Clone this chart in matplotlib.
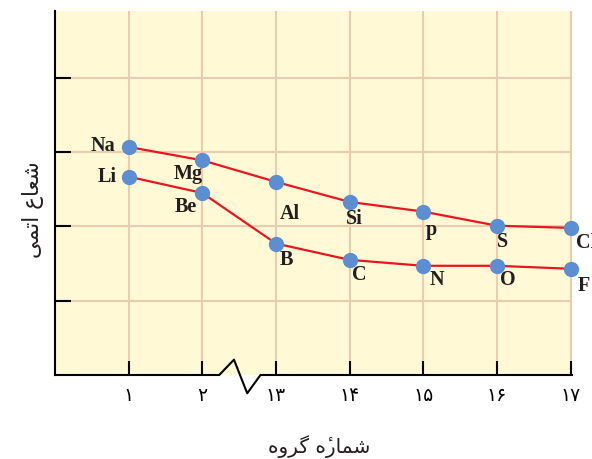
import matplotlib
matplotlib.use("Agg")

import matplotlib.pyplot as plt


# Data (relative atomic radius; grid units)
groups = ["۱", "۲", "۱۳", "۱۴", "۱۵", "۱۶", "۱۷"]

period3_symbols = ["Na", "Mg", "Al", "Si", "p", "S", "Cl"]
period3_radius = [3.07, 2.89, 2.60, 2.33, 2.20, 2.01, 1.98]

period2_symbols = ["Li", "Be", "B", "C", "N", "O", "F"]
period2_radius = [2.67, 2.45, 1.77, 1.55, 1.47, 1.47, 1.43]

# Persian labels, in visual order with joined letter forms
ylabel_text = "\uFEF0\uFEE4\uFE97\uFE8D \uFEC9\uFE8E\uFECC\uFEB7"            # شعاع اتمی
xlabel_text = "\uFEE9\uFEED\uFEAE\uFB94 \uFEE9\u0654\uFEAD\uFE8E\uFEE4\uFEB7"  # شمارهٔ گروه


# label offsets in pixels (dx, dy, ha)
offsets = {
    "Na": (-13, 2, "right"), "Li": (-12, 1, "right"),
    "Mg": (-14, -13, "center"), "Be": (-16, -13, "center"),
    "Al": (14, -31, "center"), "B": (10, -15, "center"),
    "Si": (5, -16, "center"), "p": (8, -17, "center"),
    "S": (6, -15, "center"), "Cl": (5, -14, "left"),
    "C": (10, -14, "center"), "N": (14, -13, "center"),
    "O": (11, -13, "center"), "F": (13, -16, "center"),
}

bg = "#FFF9D6"
grid_col = "#E8CDB0"
red = "#E8161E"
blue = "#5B8FD1"

fig = plt.figure(figsize=(5.92, 4.60), dpi=100)
ax = fig.add_axes([55 / 592, 84 / 460, 517 / 592, 364 / 460])
ax.set_facecolor(bg)

x = list(range(1, len(groups) + 1))

for symbols, radius in [(period3_symbols, period3_radius),
                        (period2_symbols, period2_radius)]:
    ax.plot(x, radius, color=red, lw=1.6, zorder=3, clip_on=False)
    ax.plot(x, radius, "o", color=blue, ms=10, zorder=4, clip_on=False)
    for xi, yi, s in zip(x, radius, symbols):
        dx, dy, ha = offsets[s]
        ax.annotate(s, (xi, yi), xytext=(dx, dy), textcoords="offset pixels",
                    ha=ha, va="center", fontsize=14.5, fontweight="bold",
                    family="Liberation Serif", color="#231F20",
                    annotation_clip=False, zorder=5)

ax.set_xlim(0, 7.02)
ax.set_ylim(0, 4.90)

ax.set_xticks(x)
ax.set_xticklabels(groups, family="DejaVu Sans", fontsize=13.5)
ax.set_yticks([1, 2, 3, 4])
ax.set_yticklabels([])

ax.tick_params(axis="x", direction="in", length=10, width=1.5, pad=7, colors="black")
ax.tick_params(axis="y", direction="in", length=11.5, width=1.5)

ax.grid(True, color=grid_col, lw=1.5)
ax.set_axisbelow(True)

for side in ["top", "right", "bottom"]:
    ax.spines[side].set_visible(False)
ax.spines["left"].set_linewidth(1.5)

# bottom axis with a break between groups 2 and 13
ax.plot([0, 2.23, 2.43, 2.61, 2.79, 7.02], [0, 0, 0.206, -0.246, 0, 0],
        color="black", lw=1.5, clip_on=False, zorder=6)

fig.text(33 / 592, 1 - 210 / 460, ylabel_text, rotation=90, ha="center", va="center",
         fontsize=15.5, family="DejaVu Sans", color="#231F20")
fig.text(319 / 592, 1 - 447 / 460, xlabel_text, ha="center", va="center",
         fontsize=14.5, family="DejaVu Sans", color="#231F20")

fig.savefig("out.png", dpi=100)
